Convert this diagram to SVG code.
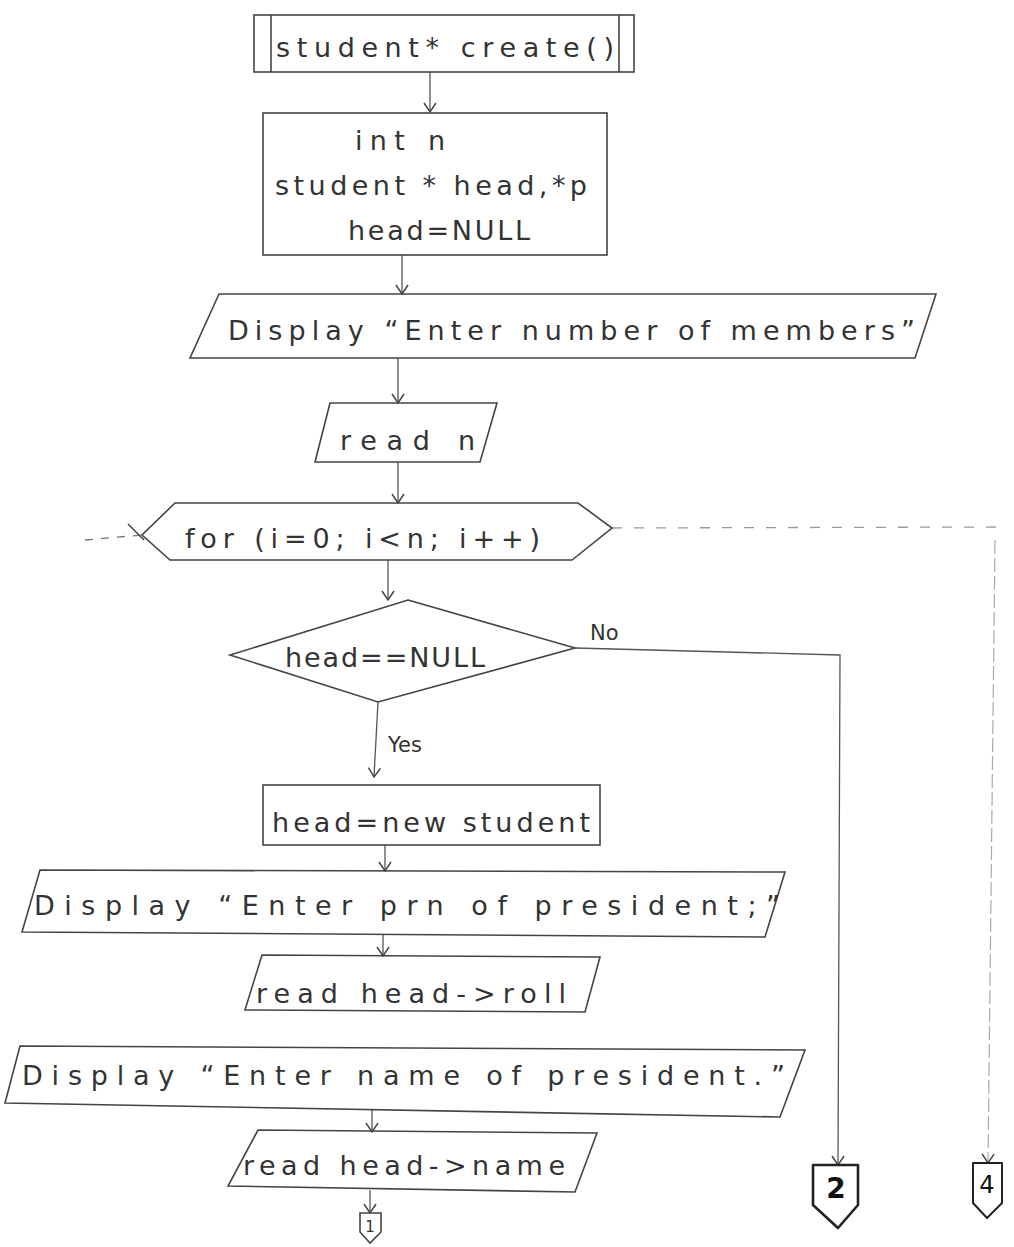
<svg xmlns="http://www.w3.org/2000/svg" width="1014" height="1247" viewBox="0 0 1014 1247">
<style>
.s{fill:none;stroke:#444;stroke-width:1.6}
.t{font-family:"DejaVu Sans","Liberation Sans",sans-serif;font-size:27px;fill:#333}
.c{fill:none;stroke:#555;stroke-width:1.3}
.k{fill:none;stroke:#222;stroke-width:2.6;stroke-linejoin:round}
</style>
<defs>
<marker id="a" markerWidth="14" markerHeight="14" refX="12" refY="7" orient="auto" markerUnits="userSpaceOnUse" viewBox="0 0 14 14">
<path d="M3,1 L12,7 L3,13" fill="none" stroke="#444" stroke-width="1.5"/>
</marker>
</defs>
<rect width="1014" height="1247" fill="#fff"/>
<g id="connectors">
<line class="c" x1="430" y1="72" x2="430" y2="112" marker-end="url(#a)"/>
<line class="c" x1="402" y1="255" x2="402" y2="294" marker-end="url(#a)"/>
<line class="c" x1="398" y1="358" x2="398" y2="403" marker-end="url(#a)"/>
<line class="c" x1="398" y1="462" x2="398" y2="503" marker-end="url(#a)"/>
<line class="c" x1="388" y1="560" x2="388" y2="600" marker-end="url(#a)"/>
<line class="c" x1="378" y1="702" x2="374" y2="777" marker-end="url(#a)"/>
<polyline class="c" points="575,648 840,655 838,1165" marker-end="url(#a)"/>
<line class="c" x1="385" y1="845" x2="385" y2="871" marker-end="url(#a)"/>
<line class="c" x1="383" y1="935" x2="383" y2="956" marker-end="url(#a)"/>
<line class="c" x1="372" y1="1110" x2="372" y2="1132" marker-end="url(#a)"/>
<line class="c" x1="370" y1="1190" x2="370" y2="1213" marker-end="url(#a)"/>
<line x1="85" y1="540" x2="142" y2="535" stroke="#777" stroke-width="1.3" stroke-dasharray="8,8"/>
<line x1="612" y1="528" x2="1000" y2="527" stroke="#999" stroke-width="1.3" stroke-dasharray="10,12"/>
<line x1="995" y1="540" x2="988" y2="1163" stroke="#aaa" stroke-width="1.2" stroke-dasharray="14,4" marker-end="url(#a)"/>
<text class="t" x="590" y="640" style="font-size:21px">No</text>
<text class="t" x="388" y="752" style="font-size:21px">Yes</text>
</g>
<g id="n_start">
<rect class="s" x="254" y="15" width="380" height="57"/>
<line class="s" x1="271" y1="15" x2="271" y2="72"/>
<line class="s" x1="619" y1="15" x2="619" y2="72"/>
<text class="t" x="276" y="57" textLength="338" lengthAdjust="spacing">student* create()</text>
</g>
<g id="n_decl">
<rect class="s" x="263" y="113" width="344" height="142"/>
<text class="t" x="355" y="150" textLength="90" lengthAdjust="spacing">int n</text>
<text class="t" x="275" y="195" textLength="312" lengthAdjust="spacing">student * head,*p</text>
<text class="t" x="348" y="240" textLength="182" lengthAdjust="spacing">head=NULL</text>
</g>
<g id="n_disp1">
<polygon class="s" points="219,294 936,294 915,358 190,358"/>
<text class="t" x="228" y="340" textLength="687" lengthAdjust="spacing">Display “Enter number of members”</text>
</g>
<g id="n_readn">
<polygon class="s" points="330,403 497,403 480,462 315,462"/>
<text class="t" x="340" y="450" textLength="135" lengthAdjust="spacing">read n</text>
</g>
<g id="n_for">
<polygon class="s" points="175,503 578,503 612,528 572,560 170,560 142,535"/>
<line class="s" x1="128" y1="524" x2="144" y2="540"/>
<text class="t" x="185" y="548" textLength="355" lengthAdjust="spacing">for (i=0; i&lt;n; i++)</text>
</g>
<g id="n_cond">
<polygon class="s" points="408,600 575,648 378,702 230,655"/>
<text class="t" x="285" y="667" textLength="200" lengthAdjust="spacing">head==NULL</text>
</g>
<g id="n_new">
<rect class="s" x="263" y="785" width="337" height="60"/>
<text class="t" x="272" y="832" textLength="318" lengthAdjust="spacing">head=new student</text>
</g>
<g id="n_disp2">
<polygon class="s" points="40,870 785,872 765,937 22,932"/>
<text class="t" x="34" y="915" textLength="746" lengthAdjust="spacing">Display “Enter prn of president;”</text>
</g>
<g id="n_readroll">
<polygon class="s" points="262,955 600,957 585,1012 245,1010"/>
<text class="t" x="256" y="1003" textLength="310" lengthAdjust="spacing">read head-&gt;roll</text>
</g>
<g id="n_disp3">
<polygon class="s" points="20,1046 805,1050 780,1117 5,1103"/>
<text class="t" x="22" y="1085" textLength="763" lengthAdjust="spacing">Display “Enter name of president.”</text>
</g>
<g id="n_readname">
<polygon class="s" points="258,1130 597,1133 575,1192 228,1186"/>
<text class="t" x="243" y="1175" textLength="322" lengthAdjust="spacing">read head-&gt;name</text>
</g>
<g id="n_c1">
<polygon class="s" points="360,1213 381,1213 381,1232 370,1243 360,1232"/>
<text class="t" x="370" y="1232" text-anchor="middle" style="font-size:15px">1</text>
</g>
<g id="n_c2">
<polygon class="k" points="813,1165 858,1165 858,1205 838,1228 813,1205"/>
<text class="t" x="836" y="1198" text-anchor="middle" style="font-size:28px;font-weight:bold;fill:#111">2</text>
</g>
<g id="n_c4">
<polygon class="k" points="973,1163 1002,1163 1002,1203 987,1218 973,1203" style="stroke-width:2"/>
<text class="t" x="987" y="1193" text-anchor="middle" style="font-size:24px;fill:#111">4</text>
</g>
</svg>
